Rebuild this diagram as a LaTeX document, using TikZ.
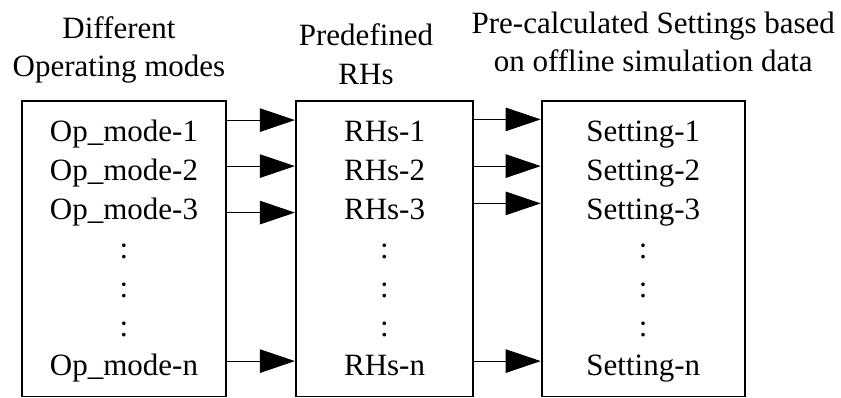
\documentclass[tikz,border=0pt]{standalone}
\usepackage{fontspec}
\setmainfont{Liberation Serif}
\usetikzlibrary{arrows.meta,positioning}

\begin{document}
\begin{tikzpicture}[node distance=68pt]
      \tikzstyle{blk}=[draw,line width=1.8pt,minimum height=295.5pt,inner sep=0pt]
      \tikzstyle{row}=[font=\fontsize{31}{39}\selectfont,anchor=base,inner sep=0pt]
      \tikzstyle{hd}=[font=\fontsize{31}{38.5}\selectfont,align=center,anchor=north,inner sep=0pt]
      \tikzstyle{arr}=[line width=0.9pt,-{Triangle[length=35pt,width=23.5pt]}]
      \useasboundingbox (0,0) rectangle (841pt,398pt);
      % blocks
      \node[blk,minimum width=204pt] (modes) at (124pt,149.25pt) {};
      \node[blk,minimum width=177.5pt,right=of modes] (rhs) {};
      \node[blk,minimum width=203.3pt,right=66.5pt of rhs] (set) {};
      % headings
      \node[hd] (hmodes) at ([xshift=-5pt,yshift=83.7pt]modes.north) {Different\\Operating modes};
      \node[hd] (hrhs) at ([xshift=-18.5pt,yshift=76.4pt]rhs.north) {Predefined\\RHs};
      \node[hd] (hset) at ([xshift=10pt,yshift=88.4pt]set.north) {Pre-calculated Settings based\\on offline simulation data};
      % rows inside the blocks
      \foreach \b/\p/\t in {modes/m/Op\_mode, rhs/r/RHs, set/s/Setting} {
        \node[row] (\p1) at ([yshift=-41.5pt]\b.north) {\t-1};
        \node[row] (\p2) at ([yshift=-39pt]\p1.base) {\t-2};
        \node[row] (\p3) at ([yshift=-39pt]\p2.base) {\t-3};
        \node[row] (\p d1) at ([yshift=-39pt]\p3.base) {:};
        \node[row] (\p d2) at ([yshift=-39pt]\p d1.base) {:};
        \node[row] (\p d3) at ([yshift=-39pt]\p d2.base) {:};
        \node[row] (\p n) at ([yshift=-39pt]\p d3.base) {\t-n};
      }
      % arrows
      \foreach \a/\s in {1/21.5, 2/14.5, 3/7, n/14.5} {
        \coordinate (am\a) at ([yshift=\s pt]m\a.base);
        \draw[arr] (am\a -| modes.east) -- (am\a -| rhs.west);
      }
      \foreach \a/\s in {1/22.2, 2/14.5, 3/16.2, n/14.5} {
        \coordinate (ar\a) at ([yshift=\s pt]r\a.base);
        \draw[arr] (ar\a -| rhs.east) -- (ar\a -| set.west);
      }
\end{tikzpicture}
\end{document}
